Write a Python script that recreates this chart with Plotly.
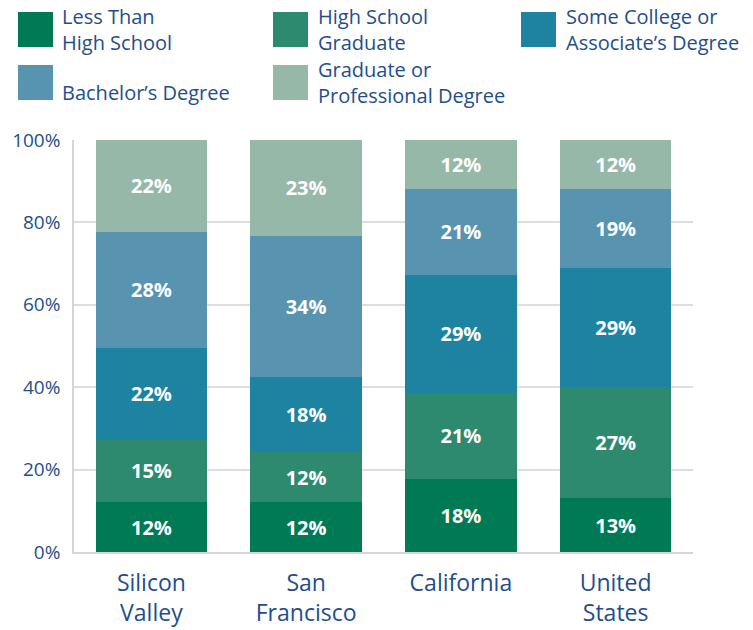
import plotly.graph_objects as go

# data ------------------------------------------------------------------------
regions = ["Silicon<br>Valley", "San<br>Francisco", "California", "United<br>States"]
less_than_hs = [12, 12, 18, 13]
hs_graduate = [15, 12, 21, 27]
some_college = [22, 18, 29, 29]
bachelors = [28, 34, 21, 19]
graduate = [22, 23, 12, 12]

series_names = [
    "Less Than<br>High School",
    "High School<br>Graduate",
    "Some College or<br>Associate’s Degree",
    "Bachelor’s Degree",
    "Graduate or<br>Professional Degree",
]
series_values = [less_than_hs, hs_graduate, some_college, bachelors, graduate]
colors = ["#007a55", "#2e8a6e", "#1d83a0", "#5894b0", "#96b8a8"]

y_ticks = [0, 20, 40, 60, 80, 100]
y_labels = ["0%", "20%", "40%", "60%", "80%", "100%"]

# style -----------------------------------------------------------------------
W, H = 753, 630
M = dict(l=74, r=W - 693, t=140, b=H - 552)
TXT = "#1f4e8c"
FONT = "Open Sans"
PW = W - M["l"] - M["r"]
PH = H - M["t"] - M["b"]


def py(ypix):
    # pixel row -> paper y
    return (H - M["b"] - ypix) / PH


def px(xpix):
    return (xpix - M["l"]) / PW


fig = go.Figure()
for name, vals, col in zip(series_names, series_values, colors):
    fig.add_trace(go.Bar(
        x=regions, y=vals, name=name, text=vals,
        texttemplate="%{text}%", textposition="inside",
        insidetextanchor="middle", textangle=0,
        textfont=dict(color="white", size=20, family=FONT, weight="bold"),
        marker=dict(color=col, line=dict(width=0)),
        showlegend=False,
    ))

# hand-made legend (3 columns, 2 rows) -----------------------------------------
sw_x = [18, 273, 521]
tx_x = [62, 318, 566]
rows = [(12, 47, 30), (65, 100, 82)]
for i, (name, col) in enumerate(zip(series_names, colors)):
    r, c = divmod(i, 3)
    y0, y1, ym = rows[r]
    fig.add_shape(type="rect", xref="paper", yref="paper",
                  x0=px(sw_x[c]), x1=px(sw_x[c] + 35), y0=py(y1), y1=py(y0),
                  fillcolor=col, line=dict(width=0))
    if "<br>" not in name:
        ym = 92
    fig.add_annotation(text=name, xref="paper", yref="paper",
                       x=px(tx_x[c] - 2), y=py(ym), xanchor="left",
                       yanchor="middle", align="left", showarrow=False,
                       font=dict(size=20, color=TXT, family=FONT))

fig.update_layout(
    barmode="stack", barnorm="percent", bargap=0.28,
    width=W, height=H, margin=M,
    plot_bgcolor="white", paper_bgcolor="white",
    font=dict(family=FONT, color=TXT),
)
fig.update_yaxes(
    range=[0, 100], tickvals=y_ticks, ticktext=y_labels, automargin=False,
    showgrid=True, gridcolor="#dedede", gridwidth=1.5,
    showline=True, linecolor="#d5d5d5", linewidth=1.5,
    zeroline=False, ticks="", ticklabelstandoff=8,
    tickfont=dict(size=19, color=TXT, family=FONT),
)
fig.update_xaxes(
    showline=True, linecolor="#d5d5d5", linewidth=1.5, automargin=False,
    ticks="", ticklabelstandoff=10,
    tickfont=dict(size=23, color=TXT, family=FONT),
)

# drop the browser's default 8px body margin so the figure sits at 0,0
fig.write_html("out.html", config={"displayModeBar": False},
               post_script="document.body.style.margin='0';")
